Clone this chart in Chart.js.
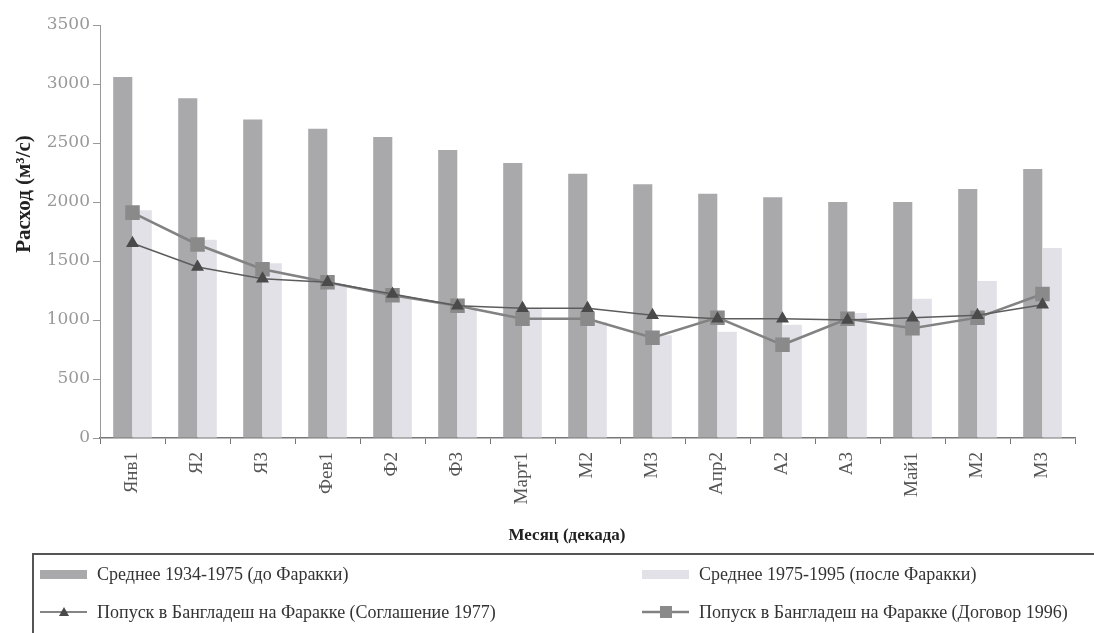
<!DOCTYPE html>
<html>
<head>
<meta charset="utf-8">
<script src="https://cdn.jsdelivr.net/npm/chart.js@4"></script>
<style>
  html, body { margin: 0; background: #fff; }
</style>
</head>
<body>
<canvas id="flowChart" width="1094" height="633"></canvas>
<script>
// decades of Jan - May
const decades = ["Янв1", "Я2", "Я3", "Фев1", "Ф2", "Ф3", "Март1", "М2", "М3", "Апр2", "А2", "А3", "Май1", "М2", "М3"];

// discharge, m3/s
const before1975 = [3060, 2880, 2700, 2620, 2550, 2440, 2330, 2240, 2150, 2070, 2040, 2000, 2000, 2110, 2280];
const after1975  = [1930, 1680, 1480, 1300, 1190, 1090, 1100, 980, 870, 900, 960, 1060, 1180, 1330, 1610];
const accord1977 = [1650, 1450, 1350, 1320, 1220, 1120, 1100, 1100, 1040, 1010, 1010, 1000, 1020, 1040, 1130];
const treaty1996 = [1910, 1640, 1430, 1320, 1210, 1120, 1010, 1010, 850, 1020, 790, 1010, 930, 1020, 1220];

const yTicks = [0, 500, 1000, 1500, 2000, 2500, 3000, 3500];

const xTitle = "Месяц (декада)";
const yTitle = "Расход (м³/с)";
const serif = '"Liberation Serif", "DejaVu Serif", serif';

// axis titles + boxed legend, drawn on the canvas
const frame = {
  id: "frame",
  afterDraw(chart) {
    const ctx = chart.ctx;
    ctx.save();
    ctx.fillStyle = "#222";
    ctx.font = "bold 17px " + serif;
    ctx.textAlign = "center";
    ctx.textBaseline = "middle";
    ctx.fillText(xTitle, 567, 536);
    ctx.save();
    ctx.translate(25, 194);
    ctx.rotate(-Math.PI / 2);
    ctx.font = "bold 21px " + serif;
    ctx.fillText(yTitle, 0, 0);
    ctx.restore();

    // legend box (runs off the right/bottom edge like the scan)
    ctx.strokeStyle = "#555";
    ctx.lineWidth = 2;
    ctx.strokeRect(33, 554, 1080, 100);

    const slots = [[40, 574], [642, 574], [40, 612], [642, 612]];
    ctx.font = "18px " + serif;
    ctx.textAlign = "left";
    chart.data.datasets.forEach((d, i) => {
      const [x, y] = slots[i];
      if (d.type === "bar") {
        ctx.fillStyle = d.backgroundColor;
        ctx.fillRect(x, y - 4, 47, 9);
      } else {
        ctx.strokeStyle = d.borderColor;
        ctx.lineWidth = d.borderWidth;
        ctx.beginPath();
        ctx.moveTo(x, y);
        ctx.lineTo(x + 47, y);
        ctx.stroke();
        ctx.fillStyle = d.pointBackgroundColor;
        const cx = x + 24;
        if (d.pointStyle === "triangle") {
          ctx.beginPath();
          ctx.moveTo(cx, y - 5);
          ctx.lineTo(cx + 5, y + 4);
          ctx.lineTo(cx - 5, y + 4);
          ctx.closePath();
          ctx.fill();
        } else {
          ctx.fillRect(cx - 6, y - 6, 12, 12);
        }
      }
      ctx.fillStyle = "#333";
      ctx.fillText(d.label, x + 57, y + 1);
    });
    ctx.restore();
  }
};

const ctx = document.getElementById("flowChart").getContext("2d");
const flowChart = new Chart(ctx, {
  data: {
    labels: decades,
    datasets: [
      {
        type: "bar",
        label: "Среднее 1934-1975 (до Фаракки)",
        data: before1975,
        backgroundColor: "#a9a9ac",
        categoryPercentage: 0.6,
        barPercentage: 0.98,
        order: 3
      },
      {
        type: "bar",
        label: "Среднее 1975-1995 (после Фаракки)",
        data: after1975,
        backgroundColor: "#e1e1e7",
        categoryPercentage: 0.6,
        barPercentage: 0.98,
        order: 3
      },
      {
        type: "line",
        label: "Попуск в Бангладеш на Фаракке (Соглашение 1977)",
        data: accord1977,
        borderColor: "#5c5c5c",
        borderWidth: 1.5,
        pointStyle: "triangle",
        pointRadius: 6,
        pointBackgroundColor: "#4a4a4a",
        pointBorderColor: "#4a4a4a",
        tension: 0,
        order: 1
      },
      {
        type: "line",
        label: "Попуск в Бангладеш на Фаракке (Договор 1996)",
        data: treaty1996,
        borderColor: "#828282",
        borderWidth: 2.5,
        pointStyle: "rect",
        pointRadius: 8.5,
        pointBackgroundColor: "#8a8a8a",
        pointBorderColor: "#8a8a8a",
        tension: 0,
        order: 2
      }
    ]
  },
  options: {
    responsive: false,
    animation: false,
    layout: { padding: { top: 25, right: 19, bottom: 85, left: 0 } },
    plugins: {
      legend: { display: false },
      tooltip: { enabled: false }
    },
    scales: {
      x: {
        grid: { display: true, drawOnChartArea: false, tickLength: 6, color: "#777", offset: true },
        border: { color: "#777", width: 1.5 },
        ticks: {
          maxRotation: 90,
          minRotation: 90,
          padding: 8,
          color: "#555",
          font: { family: serif, size: 19 }
        },
        afterFit(scale) { scale.height = 110; }
      },
      y: {
        min: 0,
        max: 3500,
        afterBuildTicks(scale) { scale.ticks = yTicks.map(v => ({ value: v })); },
        grid: { display: true, drawOnChartArea: false, tickLength: 7, color: "#999" },
        border: { color: "#999", width: 1 },
        ticks: {
          color: "#999",
          padding: 3,
          font: { family: '"DejaVu Serif", serif', size: 17 },
          callback: v => String(v)
        },
        afterFit(scale) { scale.width = 100; }
      }
    }
  },
  plugins: [frame]
});
</script>
</body>
</html>
